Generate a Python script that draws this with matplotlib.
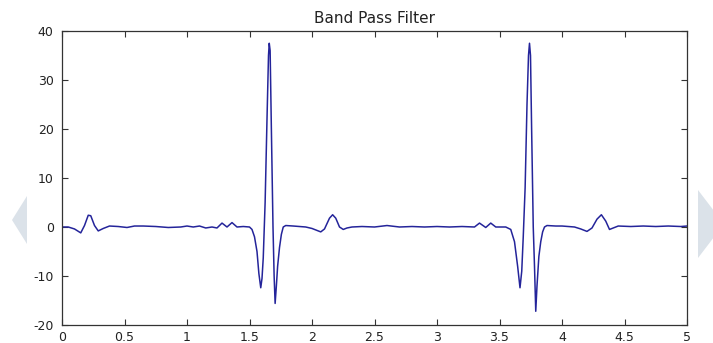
import matplotlib
matplotlib.use("Agg")
import matplotlib.pyplot as plt
from matplotlib.patches import Polygon

# time (s) and filtered amplitude
t = [0.00, 0.05, 0.10, 0.15, 0.18, 0.21, 0.23, 0.26, 0.29, 0.33, 0.38, 0.45, 0.52, 0.58,
     0.65, 0.75, 0.85, 0.95, 1.00, 1.05, 1.10, 1.15, 1.20, 1.24, 1.28, 1.32, 1.36, 1.40,
     1.45, 1.50, 1.52, 1.54, 1.56, 1.575, 1.59, 1.60, 1.61, 1.625, 1.64, 1.652, 1.658,
     1.665, 1.675, 1.688, 1.697, 1.705, 1.715, 1.725, 1.74, 1.755, 1.77, 1.79, 1.85, 1.90,
     1.95, 2.00, 2.04, 2.07, 2.10, 2.14, 2.165, 2.19, 2.22, 2.25, 2.28, 2.32, 2.40, 2.50,
     2.60, 2.70, 2.80, 2.90, 3.00, 3.10, 3.20, 3.30, 3.34, 3.39, 3.43, 3.47, 3.55, 3.59,
     3.62, 3.645, 3.664, 3.678, 3.69, 3.705, 3.72, 3.732, 3.740, 3.748, 3.757, 3.770,
     3.780, 3.790, 3.80, 3.815, 3.83, 3.845, 3.86, 3.88, 3.95, 4.00, 4.10, 4.15, 4.20,
     4.24, 4.28, 4.315, 4.35, 4.38, 4.41, 4.45, 4.55, 4.65, 4.75, 4.85, 4.95, 5.00]
v = [0.0, 0.0, -0.4, -1.2, 0.3, 2.4, 2.3, 0.3, -0.8, -0.3, 0.2, 0.1, -0.1, 0.2,
     0.2, 0.1, -0.1, 0.0, 0.2, 0.0, 0.2, -0.2, 0.0, -0.2, 0.8, 0.0, 0.9, 0.0,
     0.1, 0.0, -0.5, -2.0, -5.0, -9.5, -12.4, -10.5, -6.3, 5.0, 22.0, 35.0, 37.5,
     36.0, 20.0, 0.0, -10.0, -15.6, -12.0, -8.0, -4.2, -1.5, 0.0, 0.3, 0.2, 0.1,
     0.0, -0.3, -0.7, -1.0, -0.4, 1.8, 2.5, 1.8, 0.0, -0.5, -0.2, 0.0, 0.1, 0.0,
     0.3, 0.0, 0.1, 0.0, 0.1, 0.0, 0.1, 0.0, 0.8, -0.1, 0.8, 0.0, 0.0, -0.5,
     -3.0, -8.0, -12.4, -9.0, -2.0, 8.0, 25.0, 35.0, 37.5, 35.0, 20.0, 0.0,
     -8.0, -17.2, -12.0, -6.0, -3.0, -1.0, 0.0, 0.3, 0.2, 0.2, 0.0, -0.4, -0.9,
     -0.2, 1.6, 2.5, 1.2, -0.5, -0.2, 0.2, 0.1, 0.2, 0.1, 0.2, 0.1, 0.2]

title = "Band Pass Filter"
xticks = [0, 0.5, 1, 1.5, 2, 2.5, 3, 3.5, 4, 4.5, 5]
xticklabels = ["0", "0.5", "1", "1.5", "2", "2.5", "3", "3.5", "4", "4.5", "5"]
yticks = [-20, -10, 0, 10, 20, 30, 40]

plt.rcParams['font.family'] = ['DejaVu Sans']
plt.rcParams['axes.unicode_minus'] = False

fig = plt.figure(figsize=(7.13, 3.43), dpi=100)
fig.patch.set_facecolor('white')

# decorative side arrows
tri_color = '#dbe2e9'
fig.patches.append(Polygon([[27/713, 1-196/343], [12/713, 1-220/343], [27/713, 1-244/343]],
                           closed=True, transform=fig.transFigure, facecolor=tri_color,
                           edgecolor='none', zorder=0))
fig.patches.append(Polygon([[698/713, 1-190/343], [724/713, 1-224/343], [698/713, 1-258/343]],
                           closed=True, transform=fig.transFigure, facecolor=tri_color,
                           edgecolor='none', zorder=0))

ax = fig.add_axes([62/713, 1-325/343, (687-62)/713, (325-31)/343])
ax.plot(t, v, color='#24249a', linewidth=1.1)
ax.set_xlim(0, 5)
ax.set_ylim(-20, 40)
ax.set_xticks(xticks)
ax.set_xticklabels(xticklabels)
ax.set_yticks(yticks)
ax.tick_params(direction='in', top=True, right=True, length=4, width=0.8,
               labelsize=9, colors='#333333', labelcolor='#222222')
ax.tick_params(axis='y', pad=6)
ax.tick_params(axis='x', pad=4)
for s in ax.spines.values():
    s.set_color('#333333')
    s.set_linewidth(0.9)
ax.set_title(title, fontsize=11, color='#222222', pad=6)

fig.savefig('out.png', dpi=100)
